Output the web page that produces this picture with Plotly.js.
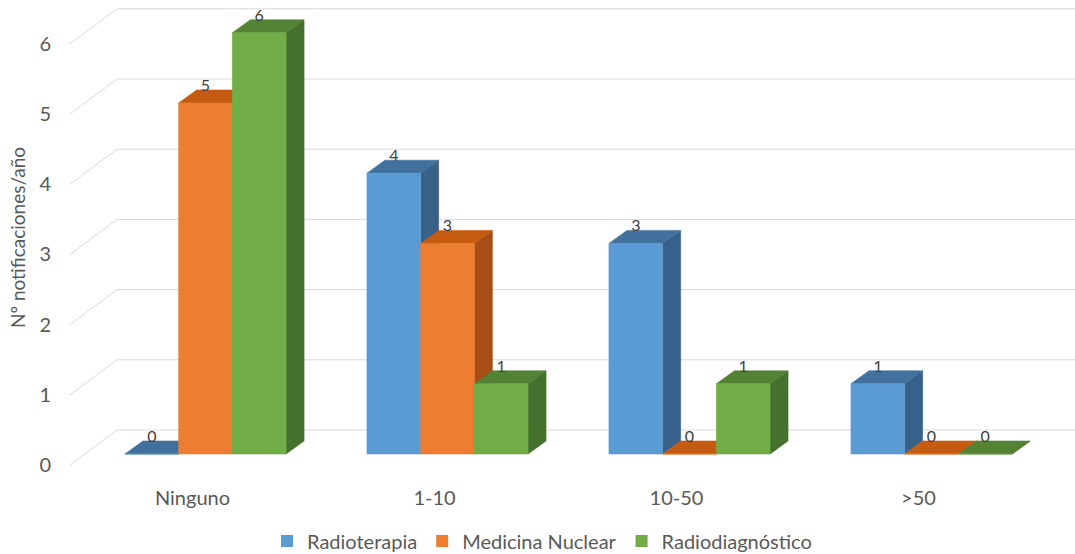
<!DOCTYPE html>
<html>
<head>
<meta charset="utf-8">
<script src="https://cdn.plot.ly/plotly-3.0.1.min.js"></script>
<style>
  html, body { margin: 0; padding: 0; background: #ffffff; }
  #chart { width: 1075px; height: 554px; }
</style>
</head>
<body>
<div id="chart"></div>
<script>
// ---- data ----
const categories = ['Ninguno', '1-10', '10-50', '>50'];
const seriesNames = ['Radioterapia', 'Medicina Nuclear', 'Radiodiagnóstico'];
const radioterapia = [0, 4, 3, 1];
const medicinaNuclear = [5, 3, 0, 0];
const radiodiagnostico = [6, 1, 1, 0];
const yTickLabels = [0, 1, 2, 3, 4, 5, 6];

// ---- styling ----
const frontColors = ['#5B9BD5', '#ED7D31', '#70AD47'];
const topColors   = ['#41719C', '#C55A11', '#548235'];
const sideColors  = ['#38618A', '#A64E16', '#46702E'];
const textColor = '#595959';
const fontFamily = 'Lato, "Open Sans", sans-serif';

// ---- geometry (pixels) used to fake the 3‑D look ----
const W = 1075, H = 554;
const ML = 60, MR = 0, MT = 5, MB = 84;
const GROUP_PX = 242;      // distance between category centres
const CAT0_PX = 205.5;     // x pixel of the first category centre
const BAR_PX = 53.7;       // bar width
const BASE_PX = 454;       // y pixel of value 0 on the bar front plane
const UNIT_PX = 70.2;      // pixels per unit
const DEPTH_X_PX = 18, DEPTH_Y_PX = 13;    // bar depth offset
const WALL_FRONT_X_PX = 70, WALL_FRONT_DY_PX = 11;   // front end of side-wall gridlines
const WALL_BACK_X_PX = 117, WALL_BACK_DY_PX = 24;    // back wall plane
const CAT_LABEL_SHIFT_PX = 13;
const VALUE_LABEL_DROP_PX = 5;

const bw = BAR_PX / GROUP_PX;
const dx = DEPTH_X_PX / GROUP_PX;
const dy = DEPTH_Y_PX / UNIT_PX;
const xRange = [(ML - CAT0_PX) / GROUP_PX, (W - MR - CAT0_PX) / GROUP_PX];
const yRange = [-((H - MB) - BASE_PX) / UNIT_PX, (BASE_PX - MT) / UNIT_PX];
const pxToX = p => (p - CAT0_PX) / GROUP_PX;

const seriesValues = [radioterapia, medicinaNuclear, radiodiagnostico];
const traces = [];

// legend entries
seriesNames.forEach((name, s) => {
  traces.push({
    type: 'bar', x: [null], y: [null], name: name,
    marker: { color: frontColors[s] }, showlegend: true, hoverinfo: 'skip'
  });
});

// gridlines: diagonal on the side wall + horizontal on the back wall
const gx = [], gy = [];
yTickLabels.forEach(v => {
  gx.push(pxToX(WALL_FRONT_X_PX), pxToX(WALL_BACK_X_PX), xRange[1], null);
  gy.push(v - WALL_FRONT_DY_PX / UNIT_PX, v + WALL_BACK_DY_PX / UNIT_PX, v + WALL_BACK_DY_PX / UNIT_PX, null);
});
traces.push({
  type: 'scatter', mode: 'lines', x: gx, y: gy,
  line: { color: '#D9D9D9', width: 1 }, showlegend: false, hoverinfo: 'skip'
});

function face(xs, ys, color) {
  return {
    type: 'scatter', mode: 'lines', x: xs, y: ys, fill: 'toself',
    fillcolor: color, line: { color: color, width: 0.6 },
    showlegend: false, hoverinfo: 'skip'
  };
}

// bars: side, top and front faces for every series
const labelX = [], labelY = [], labelText = [];
seriesValues.forEach((vals, s) => {
  const sx = [], sy = [], tx = [], ty = [], fx = [], fy = [];
  vals.forEach((v, i) => {
    const x0 = i - 1.5 * bw + s * bw;
    const x1 = x0 + bw;
    sx.push(x1, x1 + dx, x1 + dx, x1, x1, null);
    sy.push(0, dy, v + dy, v, 0, null);
    tx.push(x0, x1, x1 + dx, x0 + dx, x0, null);
    ty.push(v, v, v + dy, v + dy, v, null);
    fx.push(x0, x1, x1, x0, x0, null);
    fy.push(0, 0, v, v, 0, null);
    labelX.push(x0 + bw / 2);
    labelY.push(v + dy - VALUE_LABEL_DROP_PX / UNIT_PX);
    labelText.push(String(v));
  });
  traces.push(face(sx, sy, sideColors[s]));
  traces.push(face(tx, ty, topColors[s]));
  traces.push(face(fx, fy, frontColors[s]));
});

// value labels
traces.push({
  type: 'scatter', mode: 'text', x: labelX, y: labelY, text: labelText,
  textposition: 'top center',
  textfont: { family: fontFamily, size: 16, color: '#404040' },
  showlegend: false, hoverinfo: 'skip', cliponaxis: false
});

const layout = {
  width: W, height: H,
  margin: { l: ML, r: MR, t: MT, b: MB, pad: 0 },
  paper_bgcolor: '#ffffff', plot_bgcolor: '#ffffff',
  font: { family: fontFamily, size: 20, color: textColor },
  showlegend: true,
  legend: {
    orientation: 'h',
    xref: 'container', x: 542 / W, xanchor: 'center',
    yref: 'container', y: 1 - 541 / H, yanchor: 'middle',
    font: { family: fontFamily, size: 20, color: textColor },
    traceorder: 'normal'
  },
  xaxis: {
    range: xRange, autorange: false, showgrid: false, zeroline: false,
    showline: false, ticks: '', automargin: false,
    tickmode: 'array',
    tickvals: categories.map((c, i) => i - CAT_LABEL_SHIFT_PX / GROUP_PX),
    ticktext: categories,
    ticklabelstandoff: 14,
    tickfont: { family: fontFamily, size: 20, color: textColor }
  },
  yaxis: {
    range: yRange, autorange: false, showgrid: false, zeroline: false,
    showline: false, ticks: '', automargin: false,
    tickmode: 'array',
    tickvals: yTickLabels.map(v => v - WALL_FRONT_DY_PX / UNIT_PX),
    ticktext: yTickLabels.map(String),
    ticklabelstandoff: 8,
    tickfont: { family: fontFamily, size: 20, color: textColor },
    title: { text: 'Nº notificaciones/año', standoff: 8,
             font: { family: fontFamily, size: 19, color: textColor } }
  }
};

Plotly.newPlot('chart', traces, layout, { displayModeBar: false, staticPlot: true });
</script>
</body>
</html>
